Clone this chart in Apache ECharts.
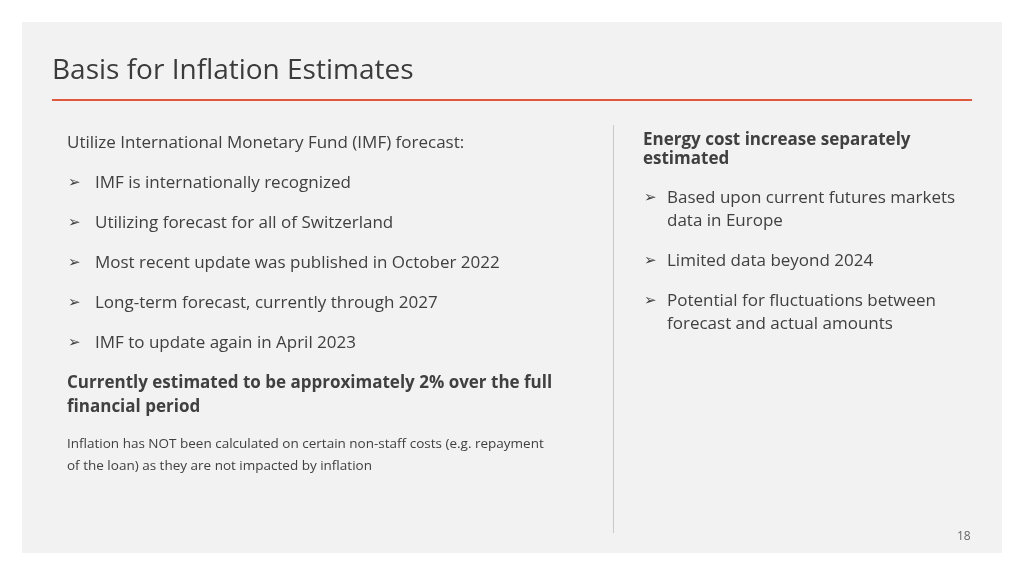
<!DOCTYPE html>
<html lang="en">
<head>
  <meta charset="UTF-8">
  <title>Basis for Inflation Estimates</title>
  <script src="https://cdn.jsdelivr.net/npm/echarts@6/dist/echarts.min.js"></script>
  <style>
    html, body { margin: 0; padding: 0; background: #fff; }
    #main { width: 1024px; height: 576px; }
  </style>
</head>
<body>
<div id="main"></div>
<script>
  var title = 'Basis for Inflation Estimates'
  var leftIntro = 'Utilize International Monetary Fund (IMF) forecast:'
  var leftBullets = [
    'IMF is internationally recognized',
    'Utilizing forecast for all of Switzerland',
    'Most recent update was published in October 2022',
    'Long-term forecast, currently through 2027',
    'IMF to update again in April 2023'
  ]
  var leftBold = ['Currently estimated to be approximately 2% over the full', 'financial period']
  var leftNote = ['Inflation has NOT been calculated on certain non-staff costs (e.g. repayment', 'of the loan) as they are not impacted by inflation']
  var rightBold = ['Energy cost increase separately', 'estimated']
  var rightBullets = [
    ['Based upon current futures markets', 'data in Europe'],
    ['Limited data beyond 2024'],
    ['Potential for fluctuations between', 'forecast and actual amounts']
  ]
  var rightBulletTop = [198, 261, 301]
  var pageNo = '18'

  var font = '"Open Sans", "Noto Sans", sans-serif'
  var ink = '#404040'

  function txt(x, y, s, size, weight, color) {
    return {
      type: 'text', x: x, y: y,
      style: {
        text: s, fontSize: size, fontWeight: weight || 'normal',
        fontFamily: font, fill: color || ink, verticalAlign: 'middle'
      }
    }
  }

  var els = [
    { type: 'rect', shape: { x: 22, y: 22, width: 980, height: 531 }, style: { fill: '#f2f2f2' } },
    txt(52, 71, title, 28, 'normal', '#3b3b3b'),
    { type: 'rect', shape: { x: 52, y: 99, width: 920, height: 2 }, style: { fill: '#e2583a' } },
    { type: 'rect', shape: { x: 613, y: 125, width: 1, height: 408 }, style: { fill: '#c8c8c8' } },
    txt(67, 143, leftIntro, 17)
  ]
  leftBullets.forEach(function (b, i) {
    var y = 183 + i * 40
    els.push(txt(68, y, '➢', 15))
    els.push(txt(95, y, b, 17))
  })
  leftBold.forEach(function (s, i) { els.push(txt(67, 383 + i * 24, s, 17, 'bold')) })
  leftNote.forEach(function (s, i) { els.push(txt(67, 444 + i * 22, s, 13.5)) })
  rightBold.forEach(function (s, i) { els.push(txt(643, 140 + i * 19, s, 17, 'bold')) })
  rightBullets.forEach(function (lines, i) {
    els.push(txt(644, rightBulletTop[i], '➢', 15))
    lines.forEach(function (s, j) { els.push(txt(667, rightBulletTop[i] + j * 23, s, 17)) })
  })
  els.push(txt(957, 537, pageNo, 12, 'normal', '#666'))

  echarts.init(document.querySelector('#main')).setOption({
    animation: false,
    graphic: { elements: els }
  })
</script>
</body>
</html>
